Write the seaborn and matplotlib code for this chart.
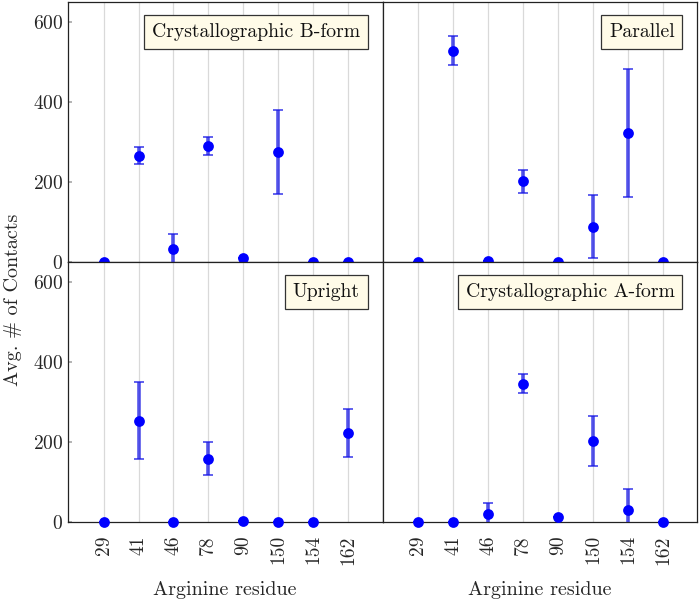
import matplotlib
matplotlib.use("Agg")
import matplotlib.pyplot as plt
import seaborn as sns
import pandas as pd
import numpy as np

residues = ["29", "41", "46", "78", "90", "150", "154", "162"]

bform_mean = [0, 265, 33, 289, 9, 274, 0, 0]
bform_err = [0, 21, 36, 23, 0, 105, 0, 0]

parallel_mean = [0, 528, 3, 201, 0, 88, 321, 0]
parallel_err = [0, 36, 0, 28, 0, 79, 160, 0]

upright_mean = [0, 253, 0, 158, 2, 0, 0, 222]
upright_err = [0, 96, 0, 41, 0, 0, 0, 60]

aform_mean = [0, 1, 20, 346, 12, 202, 29, 0]
aform_err = [0, 0, 28, 23, 0, 62, 53, 0]

panels = [
    ("Crystallographic B-form", bform_mean, bform_err),
    ("Parallel", parallel_mean, parallel_err),
    ("Upright", upright_mean, upright_err),
    ("Crystallographic A-form", aform_mean, aform_err),
]

sns.set_theme(style="white")
plt.rcParams["font.family"] = ["cmr10", "DejaVu Serif"]
plt.rcParams["mathtext.fontset"] = "cm"
plt.rcParams["axes.formatter.use_mathtext"] = True

fig, axes = plt.subplots(2, 2, figsize=(7, 6), dpi=100, sharex=True, sharey=True)
fig.subplots_adjust(left=0.097, right=0.996, top=0.997, bottom=0.13, wspace=0, hspace=0)

for ax, (title, mean, err) in zip(axes.flat, panels):
    df = pd.DataFrame({"residue": residues, "mean": mean, "err": err})
    xs = np.arange(len(residues))
    ax.errorbar(xs, df["mean"], yerr=df["err"], fmt="none", ecolor="#1a1ae6",
                alpha=0.75, elinewidth=2.6, capsize=3.5, capthick=1.3,
                clip_on=True, zorder=3)
    sns.scatterplot(data=df, x="residue", y="mean", ax=ax, color="#0000ff",
                    s=60, edgecolor="#0000ff", linewidth=0, zorder=4, clip_on=False)
    ax.set_xlim(-1.02, 7.98)
    ax.set_ylim(0, 650)
    ax.set_yticks([0, 200, 400, 600])
    ax.grid(axis="x", color="#d9d9d9", linewidth=0.9)
    ax.set_axisbelow(True)
    for sp in ax.spines.values():
        sp.set_color("#222222")
        sp.set_linewidth(0.9)
    ax.set_xlabel("")
    ax.set_ylabel("")
    ax.tick_params(axis="y", left=True, direction="in", length=3, color="#aaaaaa",
                   labelsize=14)
    ax.tick_params(axis="x", bottom=False, labelsize=14, labelrotation=90)
    ax.text(0.928, 0.918, title, transform=ax.transAxes, ha="right", va="top",
            fontsize=14.2, color="#111111",
            bbox=dict(boxstyle="square,pad=0.4", facecolor="#fffbe8",
                      edgecolor="#333333", linewidth=0.9), zorder=6)

for ax in axes[1]:
    ax.set_xlabel("Arginine residue", fontsize=14.5, labelpad=12)
for ax in axes[:, 1]:
    ax.tick_params(axis="y", left=False, labelleft=False)

fig.text(0.018, 0.5, "Avg. # of Contacts", rotation=90, ha="center", va="center",
         fontsize=14.5)

fig.savefig("out.png", dpi=100)
